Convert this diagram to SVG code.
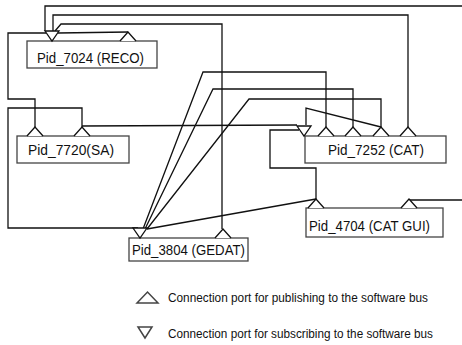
<svg xmlns="http://www.w3.org/2000/svg" width="462" height="345" viewBox="0 0 462 345">
<style>
.box{fill:#fff;stroke:#444;stroke-width:1.3}
.lbl{font-family:"Liberation Sans",Arial,sans-serif;font-size:15px;fill:#111}
.leg{font-family:"Liberation Sans",Arial,sans-serif;font-size:12px;fill:#111}
.c{fill:none;stroke:#111;stroke-width:1.3}
.pub{fill:#fff;stroke:#111;stroke-width:1.3}
.sub{fill:#fff;stroke:#111;stroke-width:1.3}
</style>
<defs>
<path id="pub" class="pub" d="M-8,0 L0,-9 L8,0"/>
<path id="sub" class="sub" d="M-7,-10 L7,-10 L0,0 Z"/>
</defs>
<rect width="462" height="345" fill="#fff"/>
<g id="connectors">
<path class="c" d="M45,31 V6 H462"/>
<path class="c" d="M53,31 V15 H408 V127"/>
<path class="c" d="M55,31 L61,24 H222 V229"/>
<path class="c" d="M46,33 H8 V99 H35 V127"/>
<path class="c" d="M58,33 L128,32"/>
<path class="c" d="M82,127 V108 H8 V228 H138"/>
<path class="c" d="M82,126 L297,125"/>
<path class="c" d="M143,229 L203,72 H326 V127"/>
<path class="c" d="M145,229 L213,89 H353 V127"/>
<path class="c" d="M147,229 L249,99 H381 V127"/>
<path class="c" d="M381,127 L306,108 V125"/>
<path class="c" d="M316,199 L147,229"/>
<path class="c" d="M316,199 V168 H270 V130 H299"/>
<path class="c" d="M409,200 H462"/>
</g>
<g id="reco">
<rect class="box" x="27" y="41" width="130" height="27"/>
<use href="#sub" x="52" y="41"/>
<use href="#pub" x="128" y="41"/>
<text class="lbl" x="37" y="63" textLength="107" lengthAdjust="spacingAndGlyphs">Pid_7024 (RECO)</text>
</g>
<g id="sa">
<rect class="box" x="17" y="136" width="112" height="27"/>
<use href="#pub" x="35" y="136"/>
<use href="#pub" x="82" y="136"/>
<text class="lbl" x="28" y="155" textLength="86" lengthAdjust="spacingAndGlyphs">Pid_7720(SA)</text>
</g>
<g id="cat">
<rect class="box" x="305" y="136" width="141" height="27"/>
<use href="#sub" x="304" y="136"/>
<use href="#pub" x="326" y="136"/>
<use href="#pub" x="353" y="136"/>
<use href="#pub" x="381" y="136"/>
<use href="#pub" x="408" y="136"/>
<text class="lbl" x="328" y="155" textLength="96" lengthAdjust="spacingAndGlyphs">Pid_7252 (CAT)</text>
</g>
<g id="catgui">
<rect class="box" x="306" y="208" width="137" height="29"/>
<use href="#pub" x="316" y="208"/>
<use href="#pub" x="409" y="208"/>
<text class="lbl" x="309" y="231" textLength="121" lengthAdjust="spacingAndGlyphs">Pid_4704 (CAT GUI)</text>
</g>
<g id="gedat">
<rect class="box" x="129" y="238" width="119" height="23"/>
<use href="#sub" x="140" y="238"/>
<use href="#pub" x="223" y="238"/>
<text class="lbl" x="132" y="255" textLength="113" lengthAdjust="spacingAndGlyphs">Pid_3804 (GEDAT)</text>
</g>
<g id="legend">
<path d="M137,303 L147.5,292 L158,303 Z" fill="none" stroke="#444" stroke-width="1.5"/>
<text class="leg" x="168" y="302" textLength="260" lengthAdjust="spacingAndGlyphs">Connection port for publishing to the software bus</text>
<path d="M138,327 L152,327 L145,338 Z" fill="none" stroke="#444" stroke-width="1.5"/>
<text class="leg" x="168" y="338" textLength="265" lengthAdjust="spacingAndGlyphs">Connection port for subscribing to the software bus</text>
</g>
</svg>
